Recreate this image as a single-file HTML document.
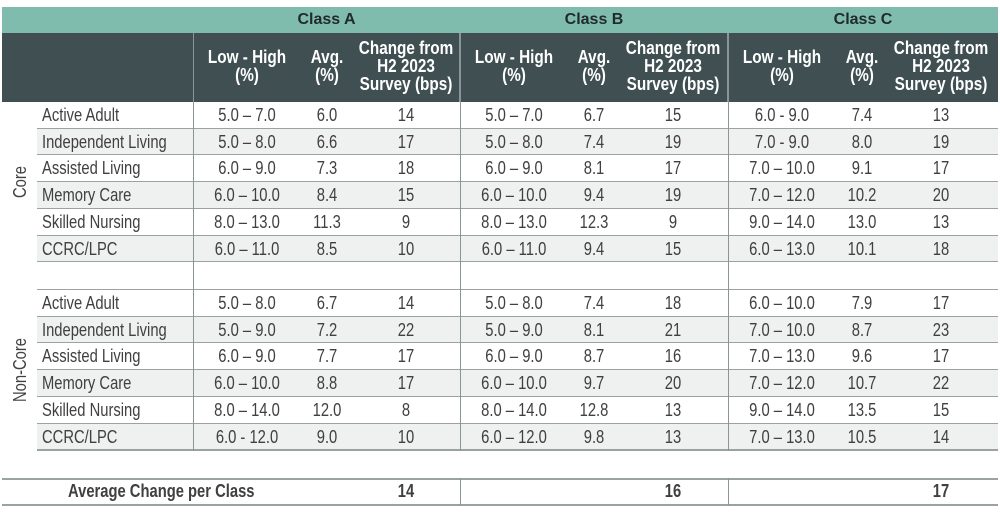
<!DOCTYPE html>
<html><head><meta charset="utf-8">
<style>
body{margin:0;background:#fff;width:1000px;height:516px;overflow:hidden;position:relative;font-family:"Liberation Sans Narrow","Liberation Sans",sans-serif;}
.a{position:absolute;box-sizing:border-box;}
.t{position:absolute;text-align:center;white-space:nowrap;color:#404040;font-size:18px;line-height:26px;transform:scaleX(0.82);}
.hd{color:#fff;font-weight:bold;font-size:18px;line-height:18px;text-align:center;position:absolute;transform:scaleX(0.85);white-space:nowrap;}
</style></head><body>
<div id="root"></div>
<script>
const classes=["Class A","Class B","Class C"];
const segments=["Core","Non-Core"];
const propTypes=["Active Adult","Independent Living","Assisted Living","Memory Care","Skilled Nursing","CCRC/LPC"];
const coreRange=[["5.0 – 7.0","5.0 – 7.0","6.0 - 9.0"],["5.0 – 8.0","5.0 – 8.0","7.0 - 9.0"],["6.0 – 9.0","6.0 – 9.0","7.0 – 10.0"],["6.0 – 10.0","6.0 – 10.0","7.0 – 12.0"],["8.0 – 13.0","8.0 – 13.0","9.0 – 14.0"],["6.0 – 11.0","6.0 – 11.0","6.0 – 13.0"]];
const coreAvg=[["6.0","6.7","7.4"],["6.6","7.4","8.0"],["7.3","8.1","9.1"],["8.4","9.4","10.2"],["11.3","12.3","13.0"],["8.5","9.4","10.1"]];
const coreChg=[[14,15,13],[17,19,19],[18,17,17],[15,19,20],[9,9,13],[10,15,18]];
const ncRange=[["5.0 – 8.0","5.0 – 8.0","6.0 – 10.0"],["5.0 – 9.0","5.0 – 9.0","7.0 – 10.0"],["6.0 – 9.0","6.0 – 9.0","7.0 – 13.0"],["6.0 – 10.0","6.0 – 10.0","7.0 – 12.0"],["8.0 – 14.0","8.0 – 14.0","9.0 – 14.0"],["6.0 - 12.0","6.0 – 12.0","7.0 – 13.0"]];
const ncAvg=[["6.7","7.4","7.9"],["7.2","8.1","8.7"],["7.7","8.7","9.6"],["8.8","9.7","10.7"],["12.0","12.8","13.5"],["9.0","9.8","10.5"]];
const ncChg=[[14,18,17],[22,21,23],[17,16,17],[17,20,22],[8,13,15],[10,13,14]];
const avgChange=[14,16,17];

const root=document.getElementById('root');
function box(x,y,w,h,bg,name){const d=document.createElement('div');d.className='a';


d.style.cssText+=`left:${x}px;top:${y}px;width:${w}px;height:${h}px;background:${bg}`;root.appendChild(d);return d;}
function txt(cx,y,s,name,extra){const d=document.createElement('div');d.className='t';


d.style.left=(cx-100)+'px';d.style.top=y+'px';d.style.width='200px';d.textContent=s;if(extra)d.style.cssText+=extra;root.appendChild(d);return d;}
const colX=[193,460,728],colW=[267,268,270];
const sub=[54,134,213];
box(2,7,996,26,'#80bcae','class-header-band');
box(2,33,996,69,'#3f4f52','column-header-band');
classes.forEach((c,i)=>{txt(colX[i]+colW[i]/2,7,c,'class-header-'+i,'font-family:"Liberation Sans",sans-serif;font-weight:bold;font-size:16px;color:#1f2a2c;transform:none;');
 if(i>0)box(colX[i]-1,33,2,69,'#8a9597','header-divider');
 const hs=[["Low  -  High","(%)"],["Avg.","(%)"],["Change from","H2 2023","Survey (bps)"]];
 hs.forEach((h,j)=>{const d=document.createElement('div');d.className='hd';
 
 
 d.style.left=(colX[i]+sub[j]-60)+'px';d.style.width='120px';
 d.style.top=(h.length==3?39:48)+'px';d.innerHTML=h.join('<br>');root.appendChild(d);});
});
box(193,33,1,69,'#8a9597','header-divider');
const rowH=26.7;
function section(y0,rng,avg,chg,seg){
 propTypes.forEach((p,r)=>{const y=y0+r*rowH;
  box(37,y,961,rowH,r%2?'#eff0f0':'#fff','row-'+seg+'-'+r);
  box(37,y+rowH-1,961,1.5,'#9aa2a3','row-line');
  txt(142,y,p,'property-type',`text-align:left;left:42px;width:180px;transform-origin:left center;`);
  for(let c=0;c<3;c++){
   txt(colX[c]+sub[0],y,rng[r][c],'range-cell');
   txt(colX[c]+sub[1],y,avg[r][c],'avg-cell');
   txt(colX[c]+sub[2],y,String(chg[r][c]),'change-cell');
  }
 });
}
section(102,coreRange,coreAvg,coreChg,'core');
box(37,262,961,28,'#fff','spacer-row');
box(37,289,961,1.5,'#9aa2a3','row-line');
section(290,ncRange,ncAvg,ncChg,'noncore');
[193,460,728].forEach(x=>box(x-0.5,102,1.5,349,'#8a9597','col-divider'));
[["Core",182],["Non-Core",370]].forEach(([s,cy])=>{txt(20,cy-13,s,'segment-label',`transform:rotate(-90deg) scaleX(0.82);`);});
box(2,478,996,1.5,'#9aa2a3','avg-top-line');
box(2,504,996,1.5,'#9aa2a3','avg-bottom-line');
[460,728].forEach(x=>box(x-0.5,478,1.5,27,'#8a9597','avg-divider'));
txt(150,478,'Average Change per Class','avg-label','font-weight:bold;');
avgChange.forEach((v,i)=>txt(colX[i]+sub[2],478,String(v),'avg-change-'+i,'font-weight:bold;'));
</script>
</body></html>
